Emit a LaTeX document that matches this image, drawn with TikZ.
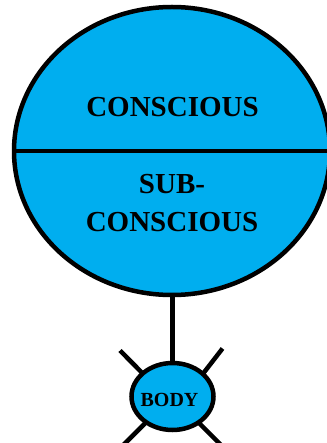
\documentclass[tikz,border=0pt]{standalone}
\usepackage{fontspec}
\setmainfont{Liberation Serif}
\usetikzlibrary{shapes.geometric}
\definecolor{mindblue}{RGB}{0,174,239}
\tikzset{
  blob/.style={ellipse, draw=black, fill=mindblue, line width=4.5pt, inner sep=0pt, outer sep=0pt},
  link/.style={draw=black, line width=4.5pt},
  lbl/.style={anchor=base, inner sep=0pt, font=\bfseries}
}
\begin{document}
\begin{tikzpicture}[x=1pt,y=-1pt]
\useasboundingbox (0,0) rectangle (326,443);
% big mind ellipse
\node[blob, minimum width=316pt, minimum height=288pt] (mind) at (172,151) {};
\draw[link] (mind.west) -- (mind.east);
\node[lbl, font=\bfseries\fontsize{29}{29}\selectfont] (con) at (172.5,117) {CONSCIOUS};
\node[lbl, font=\bfseries\fontsize{29}{29}\selectfont] (sub1) at (172,193.3) {SUB-};
\node[lbl, font=\bfseries\fontsize{29}{29}\selectfont] (sub2) at (172,231.7) {CONSCIOUS};
% body cross lines
\coordinate (ulo) at (120,350.5);
\coordinate (uli) at (166,397);
\coordinate (uro) at (222.5,348.5);
\coordinate (uri) at (185,397);
\coordinate (llo) at (116,452.4);
\coordinate (lli) at (172,396.4);
\coordinate (lro) at (228,452);
\coordinate (lri) at (172,396);
\draw[link] (ulo) -- (uli);
\draw[link] (uro) -- (uri);
\draw[link] (llo) -- (lli);
\draw[link] (lro) -- (lri);
% body
\node[blob, minimum width=82pt, minimum height=67pt] (body) at (172.5,396.5) {};
\node[lbl, font=\bfseries\fontsize{20}{20}\selectfont] (bodytxt) at (169.5,406) {BODY};
% connector
\draw[link] (body.north |- mind.south) -- (body.north);
\end{tikzpicture}
\end{document}
